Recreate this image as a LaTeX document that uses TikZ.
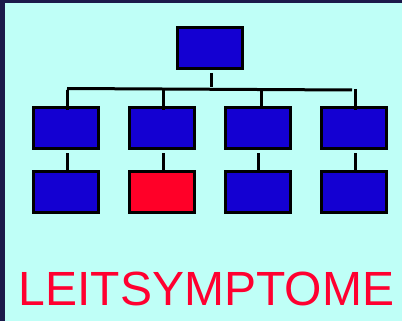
\documentclass[tikz,border=0pt]{standalone}
\usepackage{fontspec}
\setmainfont{Liberation Sans}
\definecolor{frame}{HTML}{1B1A4A}
\definecolor{paper}{HTML}{BFFFF7}
\definecolor{boxblue}{HTML}{1400D2}
\definecolor{boxred}{HTML}{FF0028}
\definecolor{titlered}{HTML}{FF0030}
\tikzset{
  orgbox/.style={draw=black, line width=3pt, fill=boxblue,
    minimum width=65pt, minimum height=41pt, inner sep=0pt},
  hotbox/.style={orgbox, fill=boxred},
  link/.style={draw=black, line width=3pt}
}
\begin{document}
\begin{tikzpicture}[x=1pt, y=-1pt]
  % frame and background
  \useasboundingbox (0,0) rectangle (402,321);
  \fill[frame] (0,0) rectangle (402,321);
  \fill[paper] (5,3) rectangle (402,321);

  % boxes
  \node[orgbox] (t) at (210,48) {};
  \node[orgbox] (a1) at (66,128) {};
  \node[orgbox] (a2) at (162,128) {};
  \node[orgbox] (a3) at (258,128) {};
  \node[orgbox] (a4) at (354,128) {};
  \node[orgbox] (b1) at (66,191.5) {};
  \node[hotbox] (b2) at (162,191.5) {};
  \node[orgbox] (b3) at (258,191.5) {};
  \node[orgbox] (b4) at (354,191.5) {};

  % bus bar
  \coordinate (busL) at (67,90);
  \coordinate (busR) at (352,90);
  \coordinate (busT) at (211,87);
  \coordinate (d2) at (163,90);
  \coordinate (d3) at (261,91);
  \coordinate (d4) at (355,89);

  \draw[link] ([xshift=1pt,yshift=-3pt]t.south) -- (busT);
  \draw[link] ([yshift=1.5pt]busL) -- (busR);
  \draw[link] (busL) -- ([xshift=1pt,yshift=-4pt]a1.north);
  \draw[link] (d2) -- ([xshift=1pt,yshift=-4pt]a2.north);
  \draw[link] (d3) -- ([xshift=3pt,yshift=-2pt]a3.north);
  \draw[link] (d4) -- ([xshift=1pt,yshift=-4pt]a4.north);

  % second level
  \draw[link] ([xshift=1pt,yshift=-3pt]a1.south) -- ([xshift=1pt]b1.north);
  \draw[link] ([xshift=1pt,yshift=-3pt]a2.south) -- ([xshift=1pt]b2.north);
  \draw[link] ([yshift=-3pt]a3.south) -- (b3.north);
  \draw[link] ([xshift=1pt,yshift=-3pt]a4.south) -- ([xshift=1pt]b4.north);

  % title
  \node[anchor=base, inner sep=0pt, text=titlered, font=\fontsize{48}{50}\selectfont]
    (title) at (206.5,305) {LEITSYMPTOME};
\end{tikzpicture}
\end{document}
